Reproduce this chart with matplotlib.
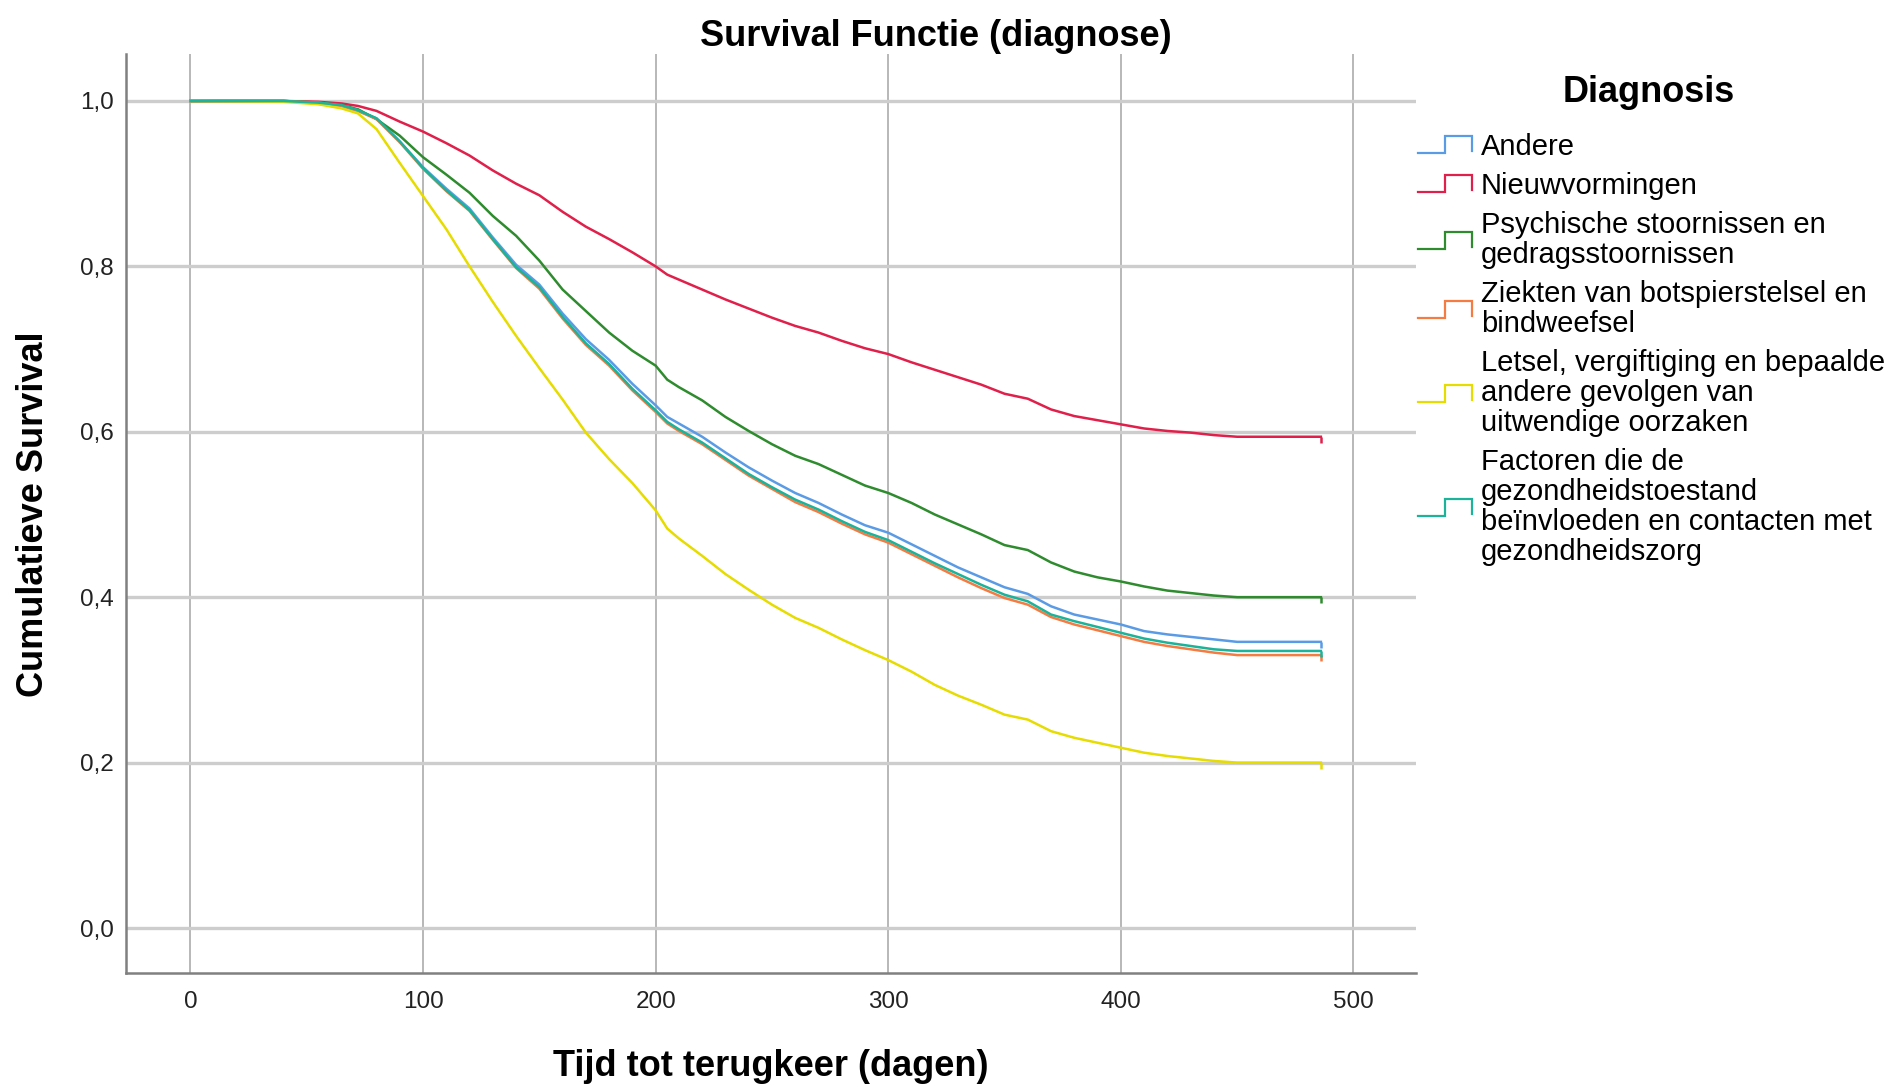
import matplotlib
matplotlib.use("Agg")
import matplotlib.pyplot as plt
import numpy as np
from matplotlib.legend_handler import HandlerBase
from matplotlib.lines import Line2D
from matplotlib.ticker import FuncFormatter, MultipleLocator

plt.rcParams["font.family"] = ["Liberation Sans", "DejaVu Sans"]

W, H = 1887, 1087

DAYS = [0, 40, 55, 65, 72, 80, 90, 100, 110, 120, 130, 140, 150, 160, 170,
        180, 190, 200, 205, 210, 220, 230, 240, 250, 260, 270, 280, 290, 300,
        310, 320, 330, 340, 350, 360, 370, 380, 390, 400, 410, 420, 430, 440,
        450, 486]

ANDERE = [1.0, 1.0, 0.998, 0.994, 0.988, 0.979, 0.951, 0.920, 0.894, 0.870,
          0.835, 0.802, 0.778, 0.743, 0.712, 0.687, 0.658, 0.632, 0.618, 0.610,
          0.594, 0.575, 0.557, 0.541, 0.526, 0.514, 0.500, 0.487, 0.478, 0.464,
          0.450, 0.436, 0.424, 0.412, 0.404, 0.389, 0.379, 0.373, 0.367, 0.359,
          0.355, 0.352, 0.349, 0.346, 0.346]
NIEUWVORMINGEN = [1.0, 1.0, 0.999, 0.997, 0.994, 0.988, 0.975, 0.963, 0.949,
                  0.934, 0.916, 0.900, 0.886, 0.866, 0.848, 0.833, 0.817, 0.800,
                  0.790, 0.784, 0.772, 0.760, 0.749, 0.738, 0.728, 0.720, 0.710,
                  0.701, 0.694, 0.684, 0.675, 0.666, 0.657, 0.646, 0.640, 0.627,
                  0.619, 0.614, 0.609, 0.604, 0.601, 0.599, 0.596, 0.594, 0.594]
PSYCHISCH = [1.0, 1.0, 0.998, 0.995, 0.990, 0.978, 0.958, 0.932, 0.911, 0.889,
             0.861, 0.837, 0.807, 0.772, 0.746, 0.720, 0.698, 0.680, 0.663,
             0.654, 0.638, 0.618, 0.601, 0.585, 0.571, 0.561, 0.548, 0.535,
             0.526, 0.514, 0.500, 0.488, 0.476, 0.463, 0.457, 0.442, 0.431,
             0.424, 0.419, 0.413, 0.408, 0.405, 0.402, 0.400, 0.400]
ZIEKTEN = [1.0, 1.0, 0.998, 0.994, 0.988, 0.978, 0.950, 0.918, 0.891, 0.867,
           0.832, 0.798, 0.773, 0.737, 0.705, 0.680, 0.650, 0.624, 0.610, 0.601,
           0.585, 0.566, 0.547, 0.531, 0.515, 0.503, 0.489, 0.476, 0.466, 0.452,
           0.438, 0.424, 0.411, 0.399, 0.391, 0.376, 0.367, 0.360, 0.353, 0.346,
           0.341, 0.337, 0.333, 0.330, 0.330]
LETSEL = [1.0, 0.999, 0.996, 0.991, 0.985, 0.966, 0.925, 0.885, 0.845, 0.800,
          0.757, 0.716, 0.677, 0.639, 0.599, 0.567, 0.538, 0.505, 0.483, 0.471,
          0.450, 0.428, 0.409, 0.391, 0.375, 0.363, 0.349, 0.336, 0.324, 0.310,
          0.294, 0.281, 0.270, 0.258, 0.252, 0.238, 0.230, 0.224, 0.218, 0.212,
          0.208, 0.205, 0.202, 0.200, 0.200]
FACTOREN = [1.0, 1.0, 0.998, 0.995, 0.989, 0.979, 0.951, 0.919, 0.892, 0.868,
            0.833, 0.799, 0.775, 0.739, 0.707, 0.682, 0.652, 0.626, 0.612, 0.603,
            0.587, 0.568, 0.549, 0.533, 0.518, 0.506, 0.492, 0.479, 0.469, 0.455,
            0.441, 0.428, 0.415, 0.403, 0.395, 0.379, 0.371, 0.364, 0.357, 0.350,
            0.345, 0.341, 0.337, 0.335, 0.335]

LABELS = [
    "Andere",
    "Nieuwvormingen",
    "Psychische stoornissen en\ngedragsstoornissen",
    "Ziekten van botspierstelsel en\nbindweefsel",
    "Letsel, vergiftiging en bepaalde\nandere gevolgen van\nuitwendige oorzaken",
    "Factoren die de\ngezondheidstoestand\nbeïnvloeden en contacten met\ngezondheidszorg",
]
SERIES = [ANDERE, NIEUWVORMINGEN, PSYCHISCH, ZIEKTEN, LETSEL, FACTOREN]
COLORS = ["#5a9be6", "#e0204a", "#2e8b2e", "#f47b42", "#e6dc00", "#1bb39a"]

# censor tick hanging below the last point, like SPSS draws it
CENSOR = [(0, 0), (0, -1)]


class StepHandle(HandlerBase):
    """SPSS-style little step glyph in the legend."""

    def create_artists(self, legend, orig_handle, xdescent, ydescent,
                       width, height, fontsize, trans):
        xs = np.array([0.0, 0.5, 0.5, 1.0, 1.0]) * width - xdescent
        ys = np.array([0.0, 0.0, 1.0, 1.0, 0.1]) * height - ydescent
        line = Line2D(xs, ys, color=orig_handle.get_color(), linewidth=1.6,
                      solid_joinstyle="miter")
        line.set_transform(trans)
        return [line]


fig = plt.figure(figsize=(W / 100, H / 100), dpi=100)
ax = fig.add_axes([126 / W, 1 - 973 / H, (1416 - 126) / W, (973 - 54) / H])

handles = []
for vals, color in zip(SERIES, COLORS):
    (ln,) = ax.plot(DAYS, vals, color=color, linewidth=1.8,
                    marker=CENSOR, markevery=[len(DAYS) - 1], markersize=9,
                    markeredgewidth=1.8, markeredgecolor=color)
    handles.append(ln)

ax.set_xlim(-27.7, 526.9)
ax.set_ylim(-0.0544, 1.0568)
ax.xaxis.set_major_locator(MultipleLocator(100))
ax.yaxis.set_major_locator(MultipleLocator(0.2))
ax.yaxis.set_major_formatter(FuncFormatter(lambda v, _: f"{v:.1f}".replace(".", ",")))
ax.yaxis.grid(True, color="#cdcdcd", linewidth=2.4)
ax.xaxis.grid(True, color="#ababab", linewidth=1.2)
ax.set_axisbelow(True)
for side in ("top", "right"):
    ax.spines[side].set_visible(False)
for side in ("left", "bottom"):
    ax.spines[side].set_color("#808080")
    ax.spines[side].set_linewidth(1.8)
ax.tick_params(length=0, labelsize=17.5, colors="#222222")
ax.tick_params(axis="x", pad=13)
ax.tick_params(axis="y", pad=9)

fig.text(936 / W, 1 - 36 / H, "Survival Functie (diagnose)", ha="center",
         va="center", fontsize=26, fontweight="bold")
fig.text(771 / W, 1 - 1066 / H, "Tijd tot terugkeer (dagen)", ha="center",
         va="center", fontsize=26, fontweight="bold")
fig.text(34 / W, 1 - 514 / H, "Cumulatieve Survival", ha="center",
         va="center", rotation=90, fontsize=26, fontweight="bold")

# legend title sits a bit apart from the entries, so draw it on its own
fig.text(1649 / W, 1 - 92 / H, "Diagnosis", ha="center", va="center",
         fontsize=26, fontweight="bold")
leg = fig.legend(handles, LABELS, loc="upper left",
                 bbox_to_anchor=(1418 / W, 1 - 133 / H), frameon=False,
                 fontsize=21, handler_map={Line2D: StepHandle()},
                 handlelength=1.85, handleheight=0.5, handletextpad=0.3,
                 labelspacing=0.37, borderpad=0, borderaxespad=0)
for t in leg.get_texts():
    t.set_linespacing(1.1)

fig.savefig("out.png", dpi=100, facecolor="white")
